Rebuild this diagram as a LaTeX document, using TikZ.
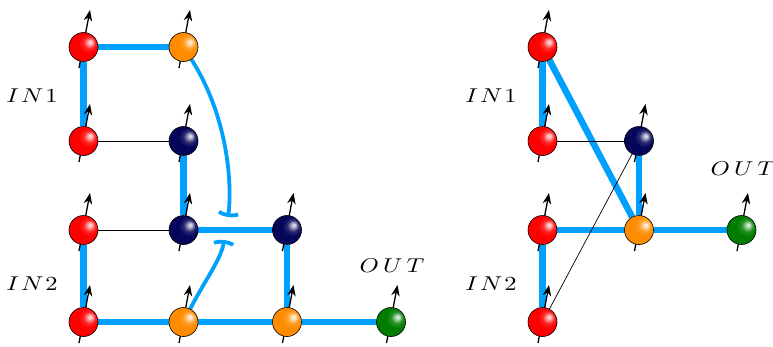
\documentclass[tikz,border=0pt]{standalone}
\usepackage{graphicx}
\usetikzlibrary{arrows.meta,backgrounds}
\definecolor{edgeblue}{RGB}{0,160,255}
\definecolor{qred}{RGB}{255,0,0}
\definecolor{qorange}{RGB}{255,140,0}
\definecolor{qnavy}{RGB}{5,5,90}
\definecolor{qgreen}{RGB}{0,125,0}
\newcommand{\mkqball}[2]{%
  \pgfdeclareradialshading{#1}{\pgfpoint{12bp}{9bp}}{%
    color(0bp)=(#2!8!white); color(3bp)=(#2!25!white); color(10bp)=(#2!85!white);
    color(17bp)=(#2); color(32bp)=(#2); color(40bp)=(#2!85!black); color(60bp)=(#2!75!black)}}
\mkqball{qbred}{qred}
\mkqball{qborange}{qorange}
\mkqball{qbnavy}{qnavy}
\mkqball{qbgreen}{qgreen}
\newcommand{\qlab}[1]{\scalebox{2.45}[2.0]{$#1$}}
\tikzset{
  qb/.style={circle, draw=black, line width=0.6pt, minimum size=29pt, inner sep=0pt, shading=qb#1},
  strong/.style={draw=edgeblue, line width=6.5pt},
  weak/.style={draw=black, line width=0.7pt},
  bent/.style={draw=edgeblue, line width=3.8pt, -{Arc Barb[width=26pt,length=6pt,arc=120]}},
  spin/.style={draw=black, line width=1.3pt, -{Stealth[length=11pt,width=8.5pt]}},
  lab/.style={inner sep=0pt}
}
\newcommand{\spinarrow}[1]{\draw[spin] ([shift={(-4.5,21)}]#1.center) -- ([shift={(6.5,-37)}]#1.center);}
\begin{document}
\begin{tikzpicture}[x=1pt,y=-1pt]
\useasboundingbox (0,0) rectangle (773,346);
% left panel
\node[qb=red]    (a1) at (83.5,47) {};
\node[qb=orange] (a2) at (183.5,47) {};
\node[qb=red]    (b1) at (83.5,141) {};
\node[qb=navy]   (b2) at (183.5,141) {};
\node[qb=red]    (c1) at (83.5,230) {};
\node[qb=navy]   (c2) at (183.5,230) {};
\node[qb=navy]   (c3) at (287,230) {};
\node[qb=red]    (d1) at (83.5,322) {};
\node[qb=orange] (d2) at (183.5,322) {};
\node[qb=orange] (d3) at (287,322) {};
\node[qb=green]  (d4) at (391,322) {};
\coordinate (t1) at (228,217);
\coordinate (t2) at (224,240);
% right panel
\node[qb=red]    (e1) at (542.5,47) {};
\node[qb=red]    (e2) at (542.5,141) {};
\node[qb=navy]   (e3) at (639,141) {};
\node[qb=red]    (e4) at (542.5,230) {};
\node[qb=orange] (e5) at (639,230) {};
\node[qb=green]  (e6) at (741.5,230) {};
\node[qb=red]    (e7) at (542.5,322) {};
% labels
\node[lab] (l1) at (32,95.5) {\qlab{I\mkern1.5mu N\mkern1.5mu 1}};
\node[lab] (l2) at (32,284) {\qlab{I\mkern1.5mu N\mkern1.5mu 2}};
\node[lab] (l3) at (392,266) {\qlab{O\mkern3mu U\mkern3mu T}};
\node[lab] (r1) at (491,95.5) {\qlab{I\mkern1.5mu N\mkern1.5mu 1}};
\node[lab] (r2) at (491,284) {\qlab{I\mkern1.5mu N\mkern1.5mu 2}};
\node[lab] (r3) at (743,169) {\qlab{O\mkern3mu U\mkern3mu T}};
\begin{scope}[on background layer]
  \draw[strong] (a1) -- (a2);
  \draw[strong] (a1) -- (b1);
  \draw[strong] (b2) -- (c2);
  \draw[strong] (c2) -- (c3);
  \draw[strong] (c3) -- (d3);
  \draw[strong] (c1) -- (d1);
  \draw[strong] (d1) -- (d2);
  \draw[strong] (d2) -- (d3);
  \draw[strong] (d3) -- (d4);
  \draw[weak] (b1) -- (b2);
  \draw[weak] (c1) -- (c2);
  \draw[bent] (a2) .. controls (230,120) and (232,190) .. (t1);
  \draw[bent] (d2) .. controls (205,280) and (222,258) .. (t2);
  \draw[strong] (e1) -- (e2);
  \draw[strong] (e4) -- (e7);
  \draw[strong] (e1) -- (e5);
  \draw[strong] (e3) -- (e5);
  \draw[strong] (e4) -- (e5);
  \draw[strong] (e5) -- (e6);
  \draw[weak] (e2) -- (e3);
  \draw[weak] (e7) -- (e3);
  \foreach \n in {a1,a2,b1,b2,c1,c2,c3,d1,d2,d3,d4,e1,e2,e3,e4,e5,e6,e7} {\spinarrow{\n}}
\end{scope}
\end{tikzpicture}
\end{document}
